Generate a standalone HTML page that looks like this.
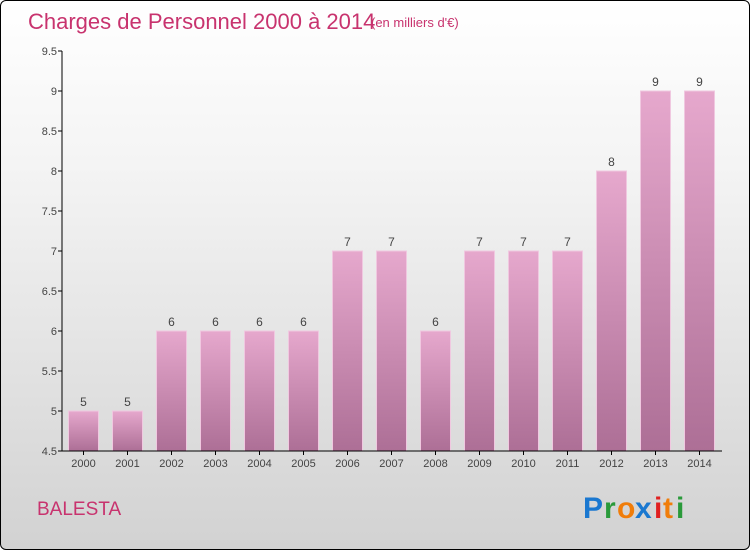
<!DOCTYPE html>
<html><head><meta charset="utf-8"><style>
body{margin:0;width:750px;height:550px;overflow:hidden}
#wrap{position:absolute;left:0;top:0;width:748px;height:548px;border:1px solid #000;border-radius:6px;background:linear-gradient(#ffffff,#f4f4f4 30%,#d2d2d2);overflow:hidden}
text{font-family:"Liberation Sans",sans-serif}
</style></head><body>
<div id="wrap">
<svg id="svg" width="750" height="550">
<defs><linearGradient id="bg" x1="0" y1="0" x2="0" y2="1"><stop offset="0" stop-color="#e6a8cd"/><stop offset="1" stop-color="#ad6f96"/></linearGradient></defs>
<text x="27" y="28" font-size="22" fill="#c8336e">Charges de Personnel 2000 à 2014</text>
<text x="370" y="26" font-size="13" fill="#c8336e">(en milliers d'€)</text>
<text x="36" y="514" font-size="19" fill="#c8336e">BALESTA</text>
<g font-size="30" font-weight="bold">
<text x="582" y="517" fill="#1a78d0">P</text><text x="603" y="517" fill="#2a9a3a">r</text><text x="616" y="517" fill="#f07d0a">o</text><text x="634" y="517" fill="#1a78d0">x</text><text x="653" y="517" fill="#e02020">i</text><text x="662" y="517" fill="#f07d0a">t</text><text x="675" y="517" fill="#2a9a3a">i</text>
</g>
<g id="plot"></g>
</svg></div>
<script>
const categories=["2000","2001","2002","2003","2004","2005","2006","2007","2008","2009","2010","2011","2012","2013","2014"];
const values=[5,5,6,6,6,6,7,7,6,7,7,7,8,9,9];
const valueLabels=["5","5","6","6","6","6","7","7","6","7","7","7","8","9","9"];
const yTicks=[4.5,5,5.5,6,6.5,7,7.5,8,8.5,9,9.5];
const yTickLabels=["4.5","5","5.5","6","6.5","7","7.5","8","8.5","9","9.5"];
const NS="http://www.w3.org/2000/svg",g=document.getElementById('plot');
const y=v=>450-(v-4.5)*80, x=i=>82.5+i*44;
function mk(t,a,p){const e=document.createElementNS(NS,t);for(const k in a)e.setAttribute(k,a[k]);(p||g).appendChild(e);return e;}
yTicks.forEach((t,i)=>{
 const l=mk('line',{x1:57,x2:61,y1:y(t),y2:y(t),stroke:'#000'});
 
 
 const tx=mk('text',{x:56,y:y(t)+4,'text-anchor':'end','font-size':11,fill:'#444'});tx.textContent=yTickLabels[i];
 
 
});
categories.forEach((c,i)=>{
 const top=y(values[i]);
 const r=mk('rect',{x:x(i)-15,y:top,width:30,height:450-top,fill:'url(#bg)',stroke:'#f0c8e0','stroke-width':1});
 
 
 const v=mk('text',{x:x(i),y:top-5,'text-anchor':'middle','font-size':12,fill:'#444'});v.textContent=valueLabels[i];
 
 
 const t=mk('line',{x1:x(i),x2:x(i),y1:450,y2:454,stroke:'#000'});
 
 
 const tx=mk('text',{x:x(i),y:466,'text-anchor':'middle','font-size':11,fill:'#444'});tx.textContent=c;
 
 
});
const ya=mk('line',{x1:61,x2:61,y1:50,y2:450,stroke:'#000'});


const xa=mk('line',{x1:61,x2:721,y1:450,y2:450,stroke:'#000'});


</script>
</body></html>
